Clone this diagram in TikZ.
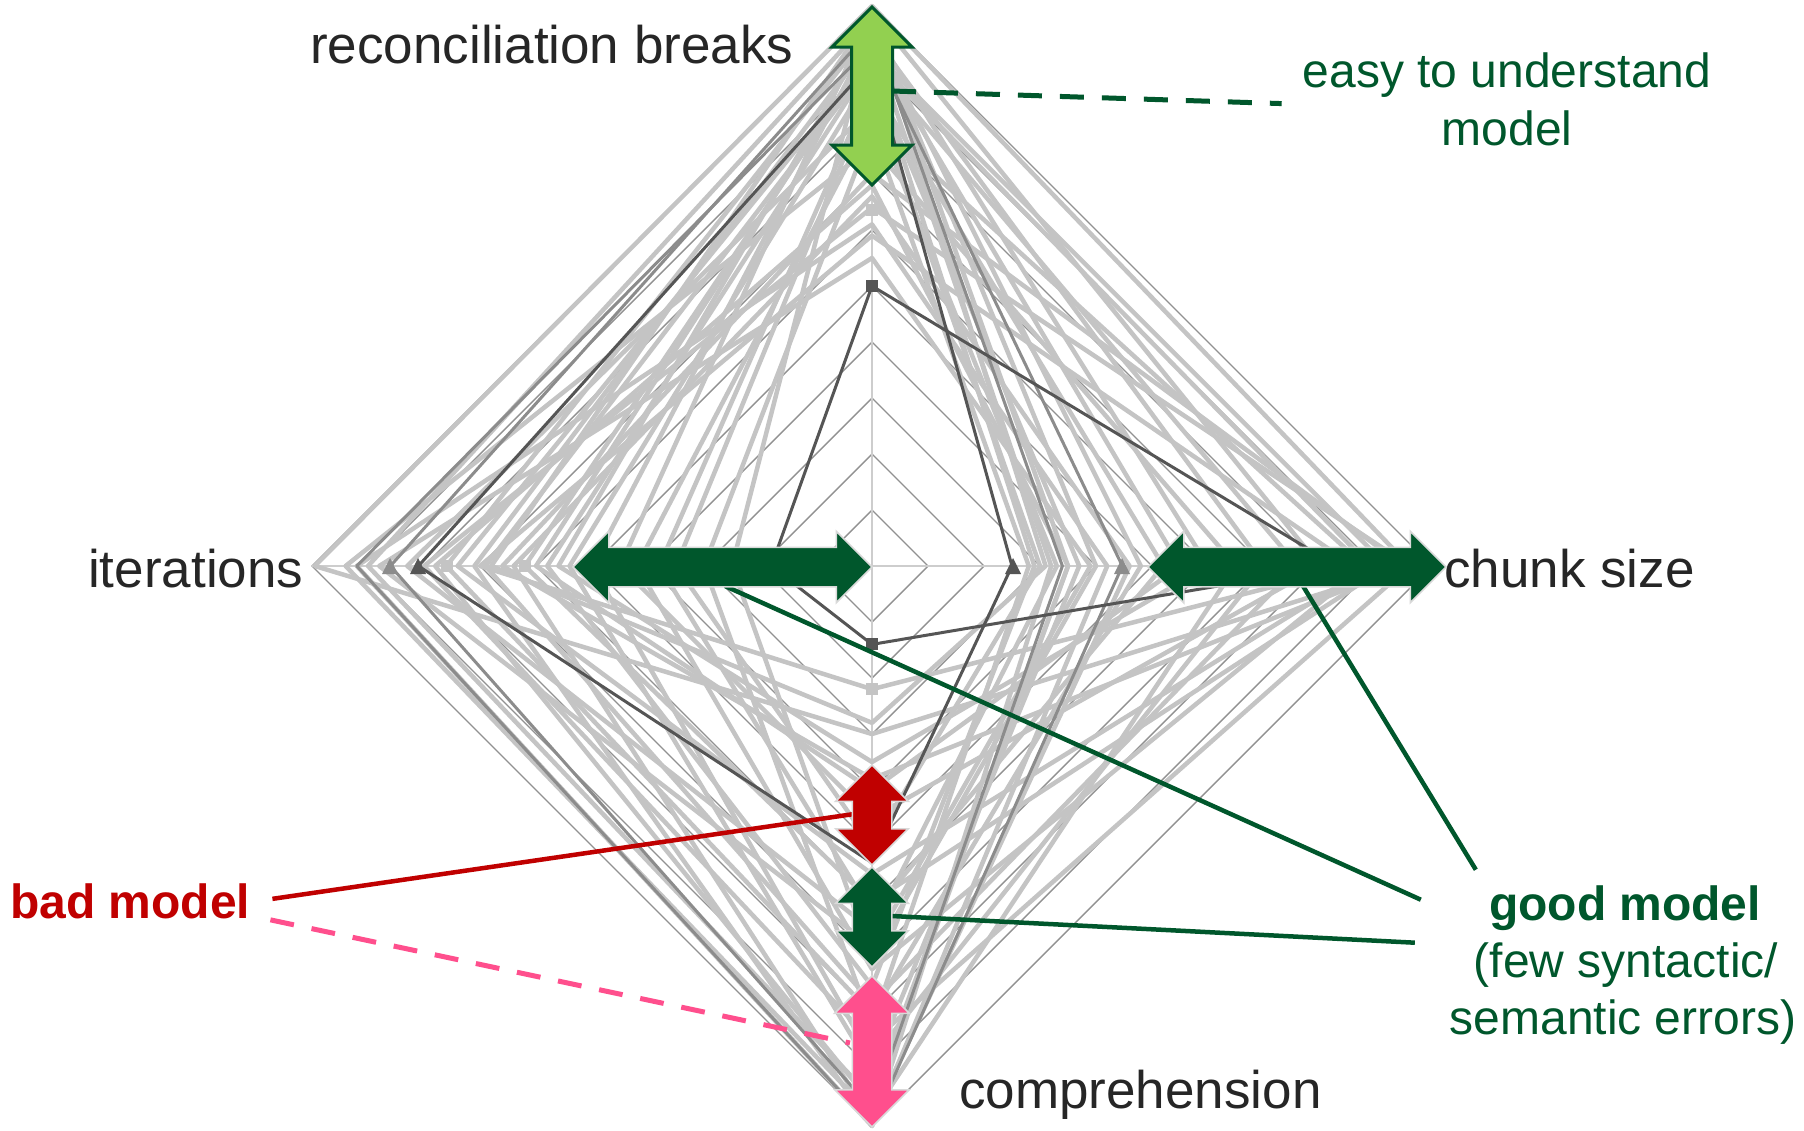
\documentclass[tikz,border=0pt]{standalone}
\usepackage{fontspec}
\setmainfont{Liberation Sans}
\usetikzlibrary{shapes.arrows,calc}
\definecolor{dgreen}{RGB}{0,87,44}
\definecolor{lgreen}{RGB}{146,208,80}
\definecolor{bred}{RGB}{192,0,0}
\definecolor{bpink}{RGB}{255,79,141}
\definecolor{axlab}{RGB}{38,38,38}
\definecolor{gridc}{RGB}{145,145,145}
\definecolor{axc}{RGB}{205,205,205}
\definecolor{serl}{RGB}{196,196,196}
\definecolor{serm}{RGB}{140,140,140}
\definecolor{serd}{RGB}{85,85,85}
\newcommand\rdser[5]{\draw[#1] (872,{566-56*#2}) -- ({872+56*#3},566) -- (872,{566+56*#4}) -- ({872-56*#5},566) -- cycle;}
\tikzset{
  lser/.style={serl, line width=4.5pt, line join=round},
  mser/.style={serm, line width=3pt, line join=round},
  dser/.style={serd, line width=3pt, line join=round},
  dblarr/.style={shape=double arrow, double arrow tip angle=90, double arrow head extend=#1, inner sep=19pt, minimum width=0pt},
  axlabel/.style={font=\fontsize{53}{63}\selectfont, text=axlab, inner sep=0pt},
  grtext/.style={font=\fontsize{48}{57}\selectfont, text=dgreen, inner sep=0pt},
  conn/.style={line width=4.5pt},
  dconn/.style={line width=5pt, dash pattern=on 24pt off 18pt},
}
\begin{document}
\begin{tikzpicture}[x=1pt, y=-1pt]
\useasboundingbox (0,0) rectangle (1804,1130);
\fill[white] (0,0) rectangle (1804,1130);
% grid
\foreach \i in {1,...,10}
  \draw[gridc, line width=1.4pt] (872,{566-56*\i}) -- ({872+56*\i},566) -- (872,{566+56*\i}) -- ({872-56*\i},566) -- cycle;
\draw[axc, line width=2pt] (872,6) -- (872,1126);
\draw[axc, line width=2pt] (312,566) -- (1432,566);
% light series
\rdser{lser}{10}{9.6}{3.0}{9.95}
\rdser{lser}{9.8}{3.5}{9.5}{9.0}
\rdser{lser}{9.6}{4.8}{8.0}{7.6}
\rdser{lser}{9.4}{3.2}{10}{7.1}
\rdser{lser}{9.2}{9.2}{6.0}{6.2}
\rdser{lser}{9.0}{2.9}{7.5}{5.8}
\rdser{lser}{8.8}{3.7}{9.0}{5.4}
\rdser{lser}{9.9}{8.0}{4.5}{4.5}
\rdser{lser}{6.4}{9.6}{8.5}{8.0}
\rdser{lser}{5.9}{8.6}{2.2}{7.0}
\rdser{lser}{8.5}{3.0}{5.0}{3.5}
\rdser{lser}{7.5}{6.5}{9.8}{9.4}
\rdser{lser}{9.7}{4.0}{7.0}{2.5}
\rdser{lser}{7.0}{9.5}{3.8}{6.6}
\rdser{lser}{8.2}{3.3}{6.5}{8.3}
\rdser{lser}{9.5}{7.0}{8.8}{5.0}
\rdser{lser}{6.8}{3.5}{9.6}{7.8}
\rdser{lser}{9.3}{5.5}{4.0}{6.0}
\rdser{lser}{8.0}{8.8}{7.2}{4.2}
\rdser{lser}{9.85}{3.1}{2.8}{6.8}
\rdser{lser}{6.1}{4.2}{10}{9.2}
\rdser{lser}{9.1}{8.9}{5.5}{7.4}
\rdser{lser}{7.8}{2.8}{8.2}{3.0}
\rdser{lser}{9.6}{6.0}{3.5}{5.6}
\rdser{lser}{5.5}{3.9}{6.8}{8.8}
\rdser{lser}{8.6}{5.2}{6.2}{3.8}
\rdser{lser}{6.6}{4.6}{9.9}{6.4}
\rdser{lser}{9.0}{7.6}{7.8}{6.9}
% mid and dark series
\rdser{mser}{9.6}{3.4}{9.7}{8.6}
\rdser{mser}{9.3}{4.47}{10}{9.2}
\rdser{dser}{9.0}{2.5}{5.3}{8.1}
\rdser{dser}{5.0}{8.3}{1.4}{1.8}
% markers
\fill[serd] (866,280) rectangle (878,292);
\fill[serd] (866,638) rectangle (878,650);
\fill[serm] (382,574) -- (398,574) -- (390,558) -- cycle;
\fill[serd] (410,574) -- (426,574) -- (418,558) -- cycle;
\fill[serd] (1005,574) -- (1021,574) -- (1013,558) -- cycle;
\fill[serm] (1114,574) -- (1130,574) -- (1122,558) -- cycle;
\fill[serl] (519,560) rectangle (531,572);
\fill[serl] (441,560) rectangle (453,572);
\fill[serl] (866,204) rectangle (878,216);
\fill[serl] (866,683) rectangle (878,695);
% arrow nodes (positions)
\node[dblarr=19.5pt, rotate=90, minimum height=178pt] (TG) at (872,96) {};
\node[dblarr=16pt, minimum height=299pt] (AL) at (722.5,567) {};
\node[dblarr=16pt, minimum height=298pt] (AR) at (1297,567) {};
\node[dblarr=16.5pt, rotate=90, minimum height=100pt] (RA) at (872,815) {};
\node[dblarr=16.5pt, rotate=90, minimum height=100pt] (GM) at (872,917) {};
\node[dblarr=17.5pt, rotate=90, minimum height=151pt] (PA) at (872,1051.5) {};
% text
\node[axlabel, anchor=base west] (rb) at (310,63) {reconciliation breaks};
\node[axlabel, anchor=base west] (it) at (88,587) {iterations};
\node[axlabel, anchor=base west] (cs) at (1444,587) {chunk size};
\node[axlabel, anchor=base west] (co) at (959,1108) {comprehension};
\node[grtext, anchor=base] (ez1) at (1507,87) {easy to understand};
\node[grtext, anchor=base] (ez2) at (1507,145) {model};
\node[grtext, anchor=base, font=\fontsize{48}{57}\selectfont\bfseries] (gm1) at (1625,920) {good model};
\node[grtext, anchor=base] (gm2) at (1626,977) {(few syntactic/};
\node[grtext, anchor=base] (gm3) at (1623,1034) {semantic errors)};
\node[inner sep=0pt, anchor=base west, text=bred, font=\fontsize{48}{57}\selectfont\bfseries] (bad) at (10,918) {bad model};
\coordinate (ezend) at ($(ez1.west)+(-21,29)$);
\coordinate (g1) at ($(gm1.west)+(-68,-8)$);
\coordinate (g2) at ($(gm1.west)+(-13,-38)$);
\coordinate (g3) at ($(gm1.west)+(-74,35)$);
\coordinate (b1) at ($(bad.east)+(22,-2)$);
\coordinate (b2) at ($(bad.east)+(20,19)$);
\draw[conn, dgreen] ($(AL.center)+(2.5,19)$) -- (g1);
\draw[conn, dgreen] ($(AR.center)+(6,19)$) -- (g2);
\draw[conn, dgreen] ($(GM.center)+(20,-1)$) -- (g3);
\draw[conn, bred] (b1) -- ($(RA.center)+(-18,-1)$);
\draw[dconn, bpink] (b2) -- ($(PA.center)+(-22,-8.5)$);
\draw[dconn, dgreen] ($(TG.center)+(20,-5)$) -- (ezend);
% arrows drawn on top
\node[dblarr=19.5pt, rotate=90, minimum height=178pt, fill=lgreen, draw=dgreen, line width=3pt] at (TG) {};
\node[dblarr=16pt, minimum height=299pt, fill=dgreen, draw=black!15, line width=1.5pt] at (AL) {};
\node[dblarr=16pt, minimum height=298pt, fill=dgreen, draw=black!15, line width=1.5pt] at (AR) {};
\node[dblarr=16.5pt, rotate=90, minimum height=100pt, fill=bred, draw=black!15, line width=1.5pt] at (RA) {};
\node[dblarr=16.5pt, rotate=90, minimum height=100pt, fill=dgreen, draw=black!15, line width=1.5pt] at (GM) {};
\node[dblarr=17.5pt, rotate=90, minimum height=151pt, fill=bpink, draw=black!15, line width=1.5pt] at (PA) {};
\end{tikzpicture}
\end{document}
